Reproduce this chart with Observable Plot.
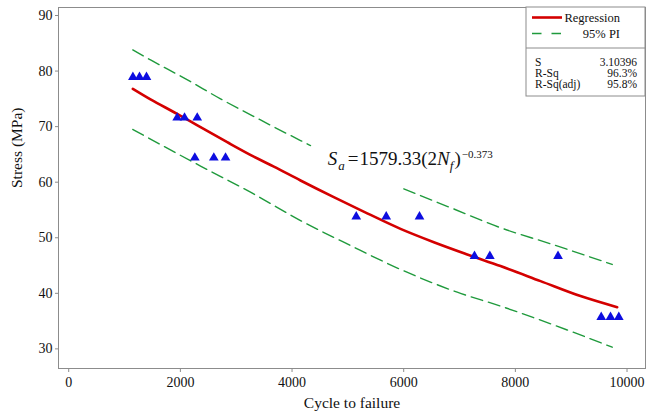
<!DOCTYPE html>
<html>
<head>
<meta charset="utf-8">
<script src="https://cdn.jsdelivr.net/npm/d3@7"></script>
<script src="https://cdn.jsdelivr.net/npm/@observablehq/plot@0.6"></script>
<style>
  body { margin: 0; background: #fff; }
  #chart { width: 647px; height: 419px; }
</style>
</head>
<body>
<div id="chart"></div>
<script>
// ---- Data ----
const xTicks = [0, 2000, 4000, 6000, 8000, 10000];
const yTicks = [30, 40, 50, 60, 70, 80, 90];

// observed points (cycles to failure, stress MPa)
const cycles = [1150, 1268, 1393, 1943, 2074, 2302, 2259, 2599, 2809,
                5150, 5687, 6283, 7268, 7543, 8764, 9538, 9704, 9853];
const stress = [78.9, 78.9, 78.9, 71.6, 71.6, 71.6, 64.4, 64.4, 64.4,
                53.8, 53.8, 53.8, 46.7, 46.7, 46.7, 35.7, 35.7, 35.7];

// fitted regression curve
const fitX = [1148, 1465, 1943, 2361, 2839, 3315, 3674, 4152, 4748, 5347,
              5943, 6540, 7138, 7734, 8451, 9167, 9824];
const fitY = [76.8, 74.9, 72.3, 69.9, 67.2, 64.6, 62.8, 60.3, 57.3, 54.4,
              51.6, 49.2, 47.0, 44.9, 42.2, 39.5, 37.5];

// 95% prediction interval, upper (two visible pieces, hidden behind the equation in between)
const upperX1 = [1148, 1465, 2094, 2719, 3435, 4152, 4331];
const upperY1 = [83.8, 82.0, 78.6, 75.0, 71.2, 67.5, 66.6];
const upperX2 = [6002, 6843, 7734, 8633, 9735];
const upperY2 = [58.8, 55.4, 51.8, 48.9, 45.2];
// 95% prediction interval, lower
const lowerX = [1148, 2361, 3256, 4152, 5047, 5943, 6959, 7734, 8929, 9735];
const lowerY = [69.5, 62.9, 58.2, 53.1, 48.6, 44.3, 40.2, 37.7, 33.4, 30.3];

// texts
const xLabel = "Cycle to failure";
const yLabel = "Stress (MPa)";
const legendItems = ["Regression", "95% PI"];
const statLabels = ["S", "R-Sq", "R-Sq(adj)"];
const statValues = ["3.10396", "96.3%", "95.8%"];
const eqCoef = "1579.33";
const eqExp = "\u22120.373";

// ---- tables built from arrays ----
const points = cycles.map((c, i) => ({x: c, y: stress[i]}));
const fit = fitX.map((x, i) => ({x, y: fitY[i]}));
const upper = [
  ...upperX1.map((x, i) => ({x, y: upperY1[i], seg: 1})),
  ...upperX2.map((x, i) => ({x, y: upperY2[i], seg: 2}))
];
const lower = lowerX.map((x, i) => ({x, y: lowerY[i]}));

const FONT = "'Liberation Serif', 'Times New Roman', Times, serif";
const RED = "#d40000";
const GREEN = "#1f9a3c";
const BLUE = "#0d0de0";
const FRAME = "#8c8c8c";
const INK = "#111";

const plot = Plot.plot({
  width: 647,
  height: 419,
  marginLeft: 58,
  marginRight: 2,
  marginTop: 7,
  marginBottom: 51,
  style: {fontFamily: FONT, fontSize: "14px", color: INK, background: "#fff"},
  x: {domain: [-183, 10331]},
  y: {domain: [26.47, 91.44]},
  marks: [
    Plot.axisX({ticks: xTicks, tickSize: 4, tickPadding: 5, tickFormat: d3.format("d"),
                stroke: FRAME, fill: INK, fontSize: 14, label: null}),
    Plot.axisY({ticks: yTicks, tickSize: 3, tickPadding: 3, tickFormat: d3.format("d"),
                stroke: FRAME, fill: INK, fontSize: 14, label: null}),
    Plot.frame({stroke: FRAME, strokeWidth: 1}),
    Plot.line(upper, {x: "x", y: "y", z: "seg", stroke: GREEN, strokeWidth: 1.4,
                      strokeDasharray: "12,6", curve: "monotone-x"}),
    Plot.line(lower, {x: "x", y: "y", stroke: GREEN, strokeWidth: 1.4,
                      strokeDasharray: "12,6", curve: "monotone-x"}),
    Plot.line(fit, {x: "x", y: "y", stroke: RED, strokeWidth: 2.6, curve: "monotone-x"}),
    Plot.dot(points, {x: "x", y: "y", symbol: "triangle", r: 3.6, fill: BLUE, stroke: "none"}),
    Plot.text([xLabel], {frameAnchor: "bottom", dy: 39, fontSize: 15.5, fill: INK}),
    Plot.text([yLabel], {frameAnchor: "left", dx: -41, rotate: -90, fontSize: 15.5, fill: INK})
  ]
});

document.getElementById("chart").appendChild(plot);

// ---- equation annotation, placed in data coordinates ----
const svg = d3.select(plot);
const sx = plot.scale("x"), sy = plot.scale("y");
const eq = svg.append("text")
  .attr("x", sx.apply(4650))
  .attr("y", sy.apply(63.0))
  .attr("text-anchor", "start")
  .attr("font-family", FONT)
  .attr("font-size", 19)
  .attr("fill", INK);
eq.append("tspan").attr("font-style", "italic").text("S");
eq.append("tspan").attr("font-style", "italic").attr("font-size", 13).attr("dy", 5).attr("dx", 1).text("a");
eq.append("tspan").attr("dy", -5).attr("dx", 3).text("=");
eq.append("tspan").attr("dx", 1).text(eqCoef + "(2");
eq.append("tspan").attr("font-style", "italic").text("N");
eq.append("tspan").attr("font-style", "italic").attr("font-size", 13).attr("dy", 5).text("f");
eq.append("tspan").attr("dy", -5).attr("dx", 1).text(")");
eq.append("tspan").attr("font-size", 11).attr("dy", -7).attr("dx", 1).text(eqExp);

// ---- legend / statistics box (top-right corner of the frame) ----
const fr = {left: 58, right: 647 - 2, top: 7};
const bx0 = 526, bx1 = fr.right, by0 = fr.top, bdiv = 48, by1 = 96;
const lg = svg.append("g").attr("font-family", FONT).attr("fill", INK).attr("text-anchor", "start");
lg.append("rect").attr("x", bx0).attr("y", by0).attr("width", bx1 - bx0).attr("height", by1 - by0)
  .attr("fill", "#fff").attr("stroke", FRAME).attr("stroke-width", 1);
lg.append("line").attr("x1", bx0).attr("x2", bx1).attr("y1", bdiv).attr("y2", bdiv)
  .attr("stroke", FRAME).attr("stroke-width", 1);
// keys
lg.append("line").attr("x1", 532).attr("x2", 562).attr("y1", 17.5).attr("y2", 17.5)
  .attr("stroke", RED).attr("stroke-width", 2.6);
lg.append("line").attr("x1", 532).attr("x2", 562).attr("y1", 33.5).attr("y2", 33.5)
  .attr("stroke", GREEN).attr("stroke-width", 1.4).attr("stroke-dasharray", "9.5,10");
legendItems.forEach((t, i) => {
  lg.append("text").attr("x", 620).attr("y", [17.5, 33.5][i]).attr("dy", "0.35em")
    .attr("text-anchor", "end").attr("font-size", 12.5).text(t);
});
statLabels.forEach((t, i) => {
  const yy = 61.5 + i * 11;
  lg.append("text").attr("x", 535).attr("y", yy).attr("dy", "0.35em")
    .attr("text-anchor", "start").attr("font-size", 11.5).text(t);
  lg.append("text").attr("x", 637).attr("y", yy).attr("dy", "0.35em")
    .attr("text-anchor", "end").attr("font-size", 11.5).text(statValues[i]);
});
</script>
</body>
</html>
